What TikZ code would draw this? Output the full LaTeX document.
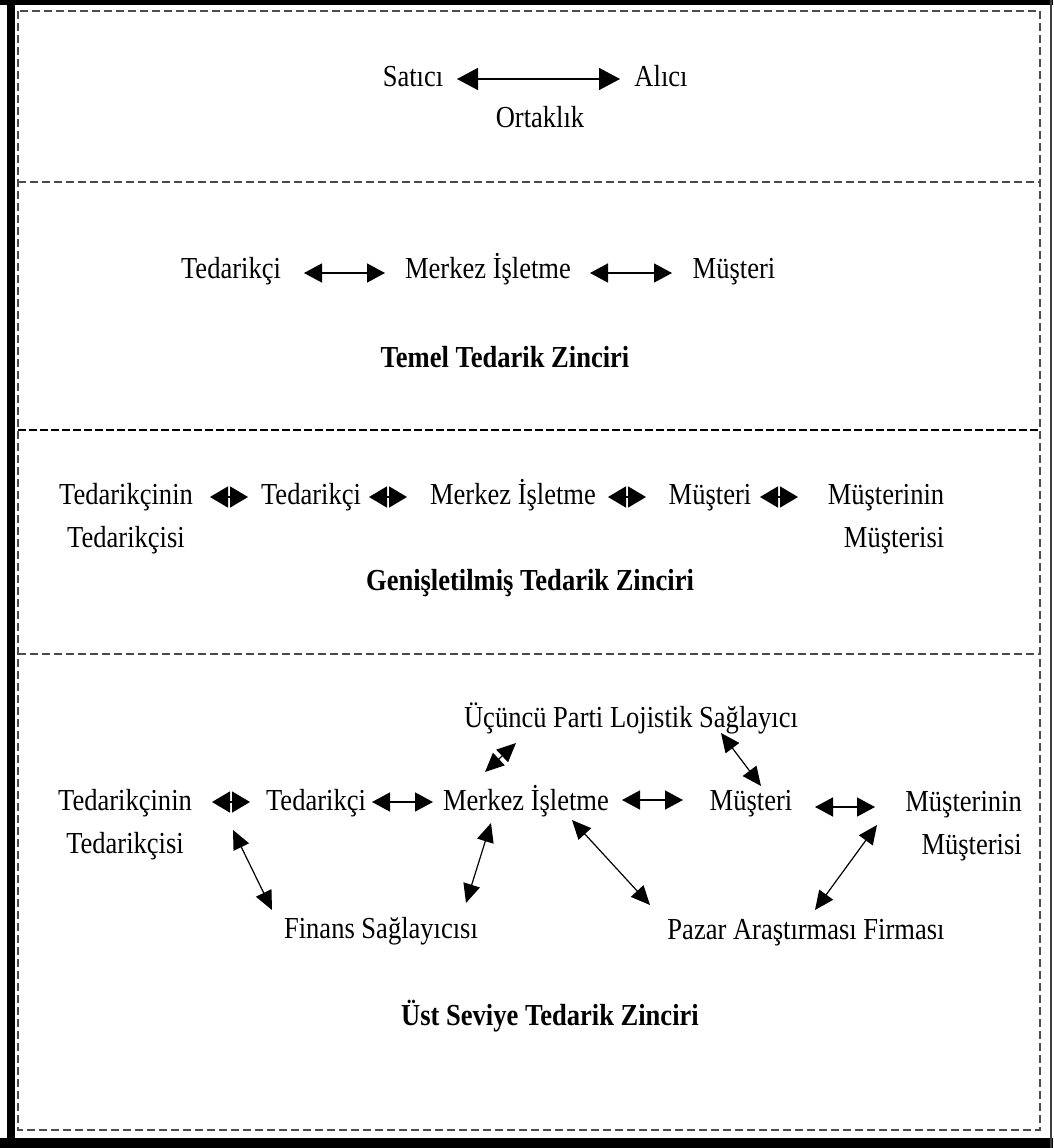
\documentclass[tikz,border=0pt]{standalone}
\usepackage{fontspec}
\setmainfont[FakeStretch=0.87]{Liberation Serif}
\usetikzlibrary{arrows.meta}
\begin{document}
\begin{tikzpicture}[x=1pt,y=-1pt,
  txt/.style={font=\fontsize{30.5}{43}\selectfont, inner sep=0pt, anchor=base, align=center},
  ttl/.style={txt, font=\fontsize{30.5}{43}\selectfont\bfseries},
  rtxt/.style={txt, align=right},
  dsh/.style={draw=black!70, line width=1.4pt, dash pattern=on 8pt off 4pt},
  dshb/.style={draw=black, line width=2.6pt, dash pattern=on 8pt off 3pt},
  bigarr/.style={line width=1.5pt, {Triangle[length=21pt,width=22pt]}-{Triangle[length=21pt,width=22pt]}},
  arr/.style={line width=1.5pt, {Triangle[length=18pt,width=19pt]}-{Triangle[length=18pt,width=19pt]}},
  tinyarr/.style={line width=1.5pt, {Triangle[length=18pt,width=21pt]}-{Triangle[length=18pt,width=21pt]}},
  darr/.style={line width=1.2pt, {Triangle[length=19pt,width=17pt]}-{Triangle[length=19pt,width=17pt]}}
]
\useasboundingbox (0,0) rectangle (1053,1148);
\fill[white] (0,0) rectangle (1053,1148);
% outer frame
\fill[black] (7,0) rectangle (15,1148);
\fill[black] (0,0) rectangle (1053,5.5);
\fill[black] (0,1138) rectangle (1053,1148);
\fill[black!75] (1050.2,0) rectangle (1051.8,1148);
% inner dashed frame and dividers
\draw[dsh] (18,11) rectangle (1040,1130);
\draw[dsh] (18,182) -- (1040,182);
\draw[dshb] (18,430) -- (1040,430);
\draw[dsh] (18,654) -- (1040,654);

% ---- section 1
\node[txt] (satici) at (413,86) {Satıcı};
\node[txt] (alici) at (661,86) {Alıcı};
\node[txt] (ortaklik) at (540,127) {Ortaklık};
\coordinate (s1l) at (457,79);
\coordinate (s1r) at (620,79);
\draw[bigarr] (s1l) -- (s1r);

% ---- section 2
\node[txt] (t2ted) at (231,278) {Tedarikçi};
\node[txt] (t2mer) at (488,278) {Merkez İşletme};
\node[txt] (t2mus) at (734,278) {Müşteri};
\node[ttl] (t2ttl) at (505,367) {Temel Tedarik Zinciri};
\coordinate (s2a) at (304,273);
\coordinate (s2b) at (385,273);
\coordinate (s2c) at (590,273);
\coordinate (s2d) at (672,273);
\draw[arr] (s2a) -- (s2b);
\draw[arr] (s2c) -- (s2d);

% ---- section 3
\node[txt] (t3tt) at (126,547) {Tedarikçinin\\Tedarikçisi};
\node[txt] (t3ted) at (311,504) {Tedarikçi};
\node[txt] (t3mer) at (513,504) {Merkez İşletme};
\node[txt] (t3mus) at (710,504) {Müşteri};
\node[rtxt] (t3mm) at (886,547) {Müşterinin\\Müşterisi};
\node[ttl] (t3ttl) at (530,590) {Genişletilmiş Tedarik Zinciri};
\coordinate (s3a1) at (210,497); \coordinate (s3a2) at (248,497);
\coordinate (s3b1) at (369,497); \coordinate (s3b2) at (407,497);
\coordinate (s3c1) at (608,497); \coordinate (s3c2) at (646,497);
\coordinate (s3d1) at (760,497); \coordinate (s3d2) at (798,497);
\draw[tinyarr] (s3a1) -- (s3a2);
\draw[tinyarr] (s3b1) -- (s3b2);
\draw[tinyarr] (s3c1) -- (s3c2);
\draw[tinyarr] (s3d1) -- (s3d2);

% ---- section 4
\node[txt] (t4ucp) at (631,727) {Üçüncü Parti Lojistik Sağlayıcı};
\node[txt] (t4tt) at (125,853) {Tedarikçinin\\Tedarikçisi};
\node[txt] (t4ted) at (316,810) {Tedarikçi};
\node[txt] (t4mer) at (526,810) {Merkez İşletme};
\node[txt] (t4mus) at (751,810) {Müşteri};
\node[rtxt, anchor=base east] (t4mm) at (1022,854) {Müşterinin\\Müşterisi};
\node[txt] (t4fin) at (381,938) {Finans Sağlayıcısı};
\node[txt] (t4paz) at (806,939) {Pazar Araştırması Firması};
\node[ttl] (t4ttl) at (550,1025) {Üst Seviye Tedarik Zinciri};
\coordinate (s4a1) at (212,802); \coordinate (s4a2) at (250,802);
\coordinate (s4b1) at (372,802); \coordinate (s4b2) at (433,802);
\coordinate (s4c1) at (622,800); \coordinate (s4c2) at (683,800);
\coordinate (s4d1) at (815,807); \coordinate (s4d2) at (875,807);
\draw[tinyarr] (s4a1) -- (s4a2);
\draw[arr] (s4b1) -- (s4b2);
\draw[arr] (s4c1) -- (s4c2);
\draw[arr] (s4d1) -- (s4d2);
% diagonal links
\coordinate (dA1) at (485,772); \coordinate (dA2) at (516,743);
\coordinate (dB1) at (721,733); \coordinate (dB2) at (761,786);
\coordinate (dC1) at (233,830); \coordinate (dC2) at (272,910);
\coordinate (dD1) at (491,823); \coordinate (dD2) at (466,903);
\coordinate (dE1) at (572,820); \coordinate (dE2) at (650,905);
\coordinate (dF1) at (877,825); \coordinate (dF2) at (815,910);
\draw[darr] (dA1) -- (dA2);
\draw[darr] (dB1) -- (dB2);
\draw[darr] (dC1) -- (dC2);
\draw[darr] (dD1) -- (dD2);
\draw[darr] (dE1) -- (dE2);
\draw[darr] (dF1) -- (dF2);
\end{tikzpicture}
\end{document}
